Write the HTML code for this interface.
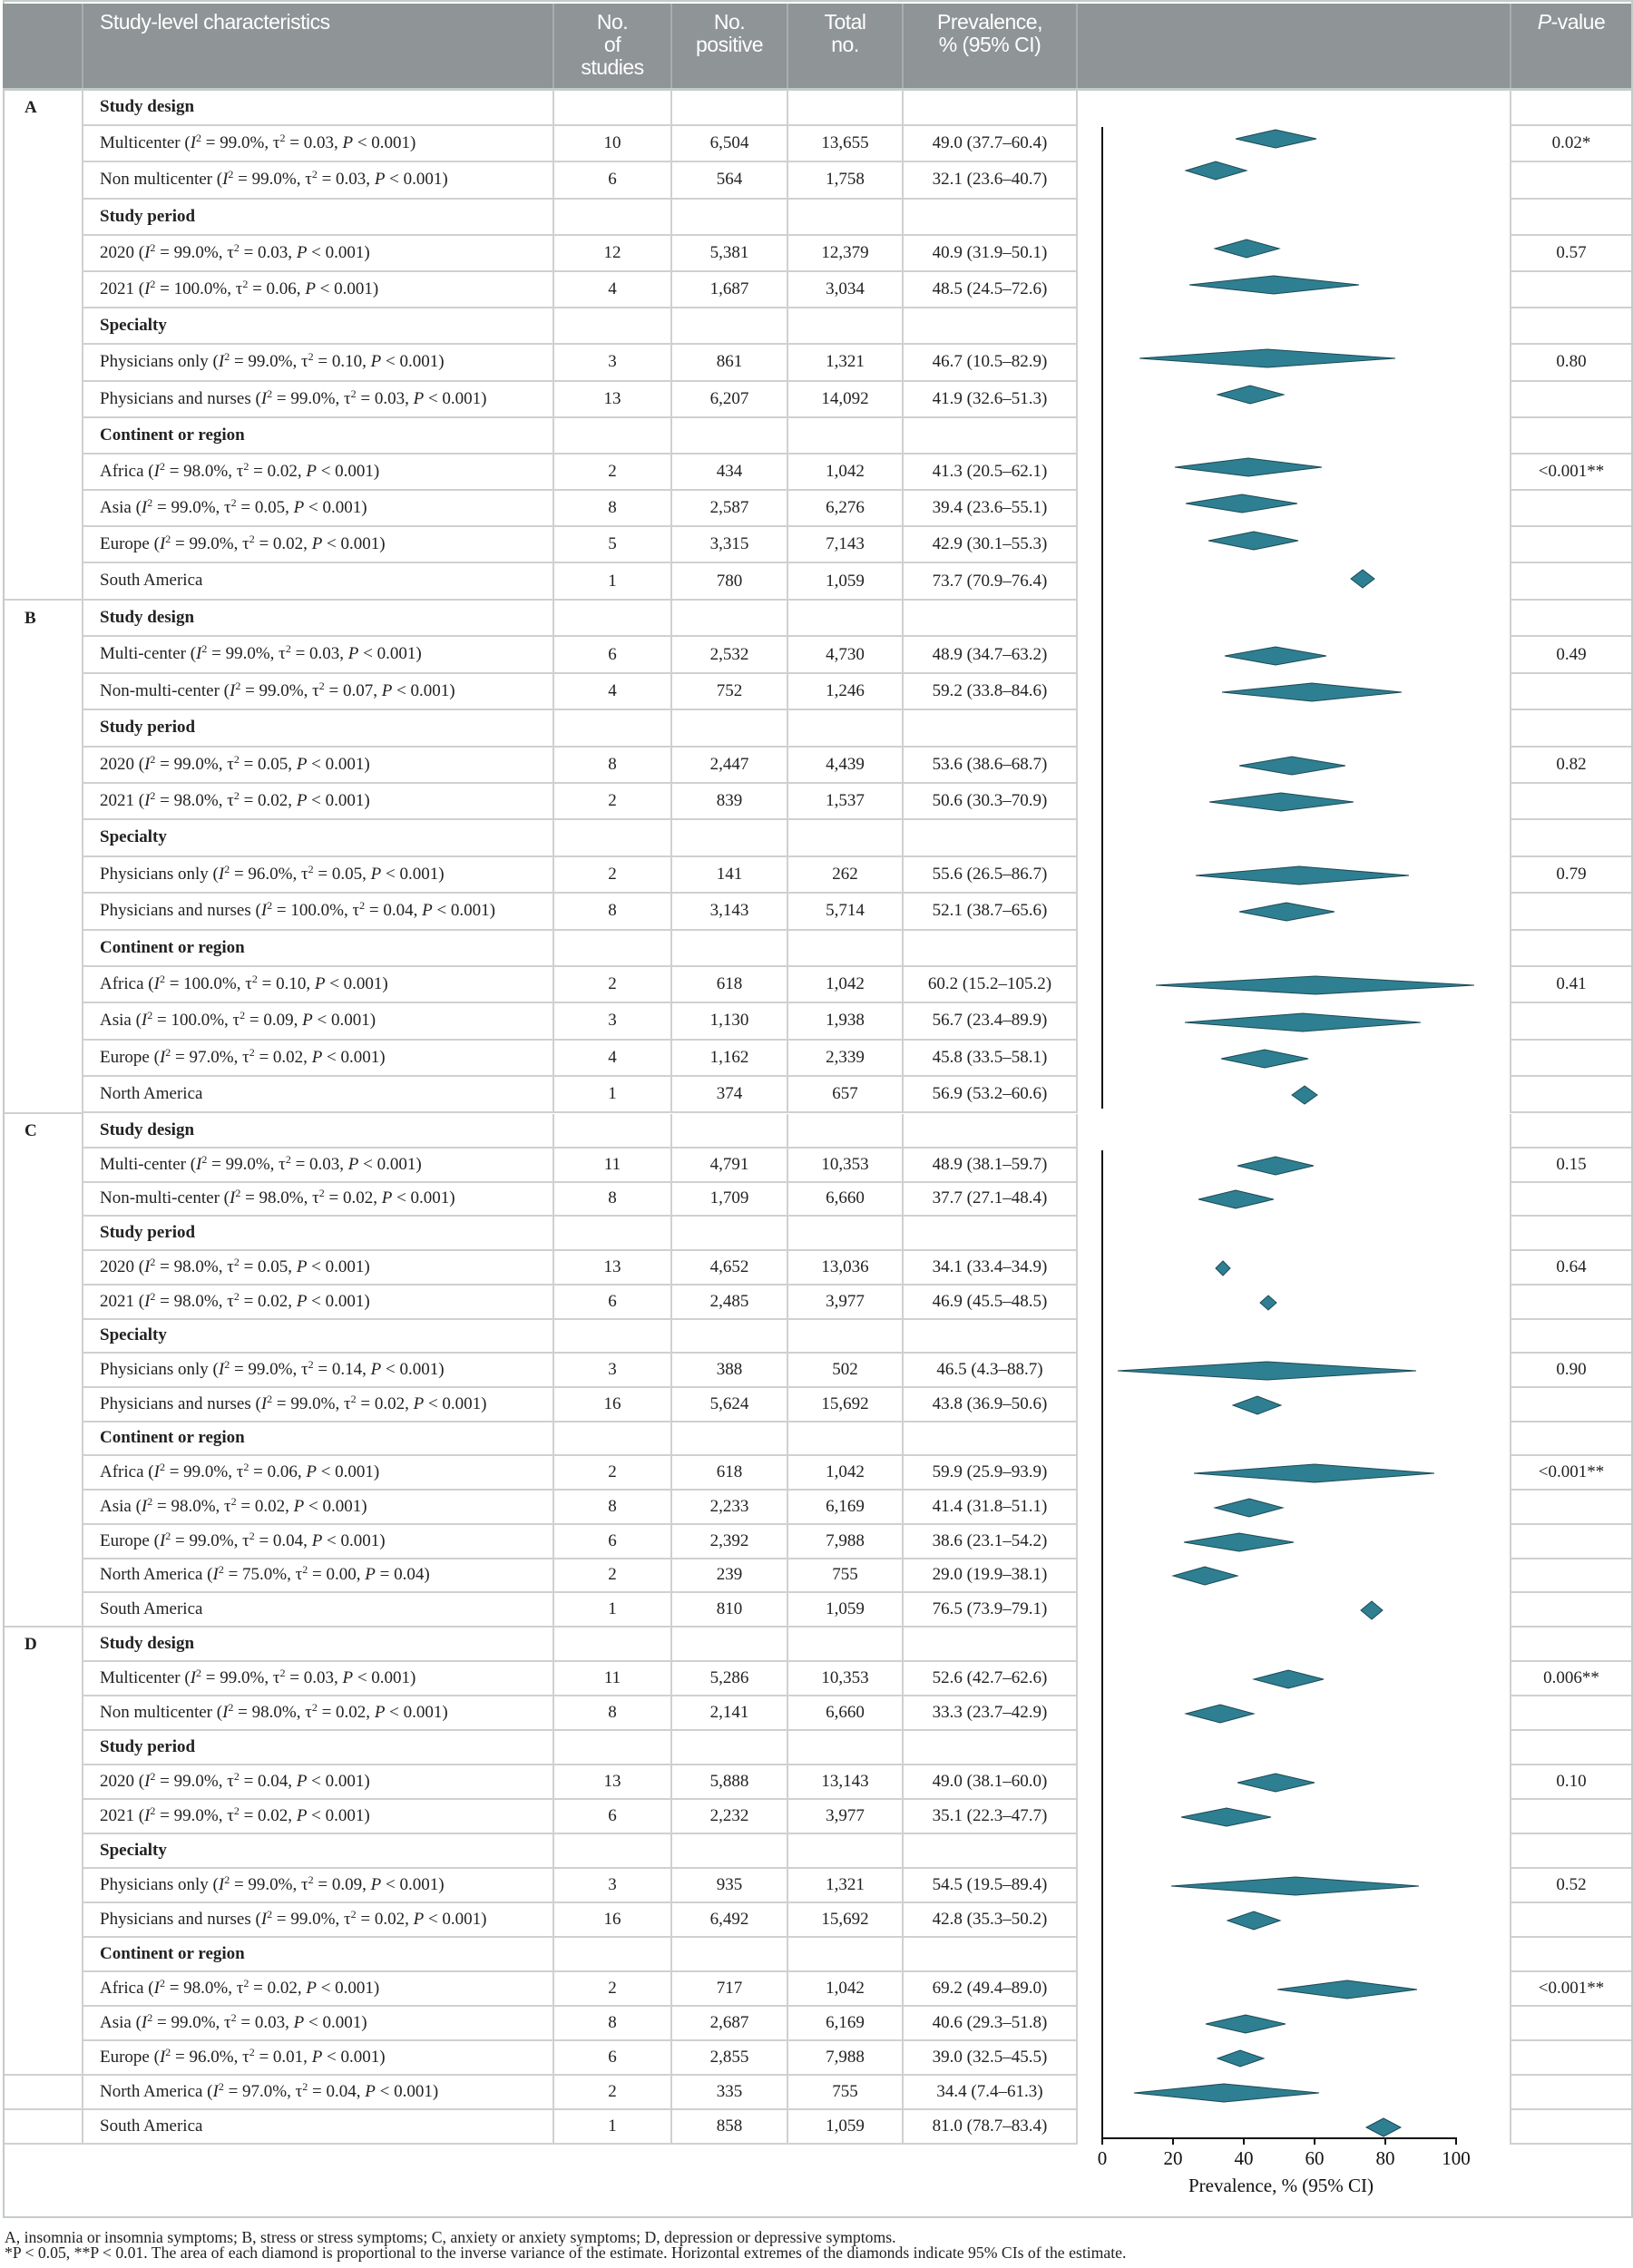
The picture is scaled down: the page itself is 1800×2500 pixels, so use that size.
<!DOCTYPE html>
<html><head><meta charset="utf-8">
<style>
html,body{margin:0;padding:0;background:#fff}
body{width:1800px;height:2500px;position:relative;overflow:hidden;font-family:"Liberation Serif",serif;color:#222}
.box{position:absolute;left:3px;top:0;width:1793px;height:2441px;border:2px solid #c3ccc9}
.hdr{position:absolute;left:3px;top:4px;width:1795px;height:93px;background:#8f9496;border-bottom:3px solid #c3ccc9;color:#fff;font-family:"Liberation Sans",sans-serif;font-size:23px;letter-spacing:-0.5px}
.hc{position:absolute;top:0;height:93px;border-left:2px solid #a9adaf;text-align:center;line-height:25px;padding-top:8px;box-sizing:border-box}
.sec{position:absolute;left:92px;width:1706px}
.r{display:grid;grid-template-columns:519px 130px 128px 127px 192px 478px 132px}
.c{border-bottom:2px solid #d0d0d0;border-right:2px solid #d0d0d0;display:flex;align-items:center;justify-content:center;font-size:19px;box-sizing:border-box;white-space:nowrap}
.c:last-child{border-right:none}
.t{display:block;padding-left:18px;line-height:36px}
.b{font-weight:bold}
.pl{border-right:2px solid #d0d0d0}
.A .r{height:40.2px}.B .r{height:40.4px}.C .r{height:37.73px}.D .r{height:38px}
.A .t,.B .t{line-height:38px}
.lc{position:absolute;left:5px;width:87px;border-right:2px solid #d0d0d0;border-bottom:2px solid #d0d0d0;box-sizing:border-box;font-weight:bold;font-size:19px;padding-left:22px}
.fn{position:absolute;left:5px;font-size:17.7px;line-height:17px;white-space:nowrap}
sup{font-size:12px;vertical-align:7px;line-height:0}
</style></head><body>
<div class="box"></div>
<div class="hdr">
<div class="hc" style="left:87px;width:520px;text-align:left;padding-left:18px;border-left:2px solid #a9adaf">Study-level characteristics</div>
<div class="hc" style="left:606px;width:130px">No.<br>of<br>studies</div>
<div class="hc" style="left:736px;width:128px">No.<br>positive</div>
<div class="hc" style="left:864px;width:127px">Total<br>no.</div>
<div class="hc" style="left:991px;width:192px">Prevalence,<br>% (95% CI)</div>
<div class="hc" style="left:1183px;width:478px"></div>
<div class="hc" style="left:1661px;width:134px"><i>P</i>-value</div>
</div>

<div class="lc" style="top:99px;height:563px;line-height:40px">A</div>
<div class="lc" style="top:662px;height:566px;line-height:40px">B</div>
<div class="lc" style="top:1228px;height:566px;line-height:38px">C</div>
<div class="lc" style="top:1794px;height:494px;line-height:38px">D</div>
<div class="lc" style="top:2288px;height:38px"></div>
<div class="lc" style="top:2326px;height:38px"></div>

<div class="sec A" style="top:99px">
<div class="r"><div class="c t b">Study design</div><div class="c"></div><div class="c"></div><div class="c"></div><div class="c"></div><div class="pl"></div><div class="c"></div></div>
<div class="r"><div class="c t">Multicenter (<i>I</i><sup>2</sup>&nbsp;= 99.0%, τ<sup>2</sup>&nbsp;= 0.03, <i>P</i> &lt; 0.001)</div><div class="c">10</div><div class="c">6,504</div><div class="c">13,655</div><div class="c">49.0 (37.7–60.4)</div><div class="pl"></div><div class="c">0.02*</div></div>
<div class="r"><div class="c t">Non multicenter (<i>I</i><sup>2</sup>&nbsp;= 99.0%, τ<sup>2</sup>&nbsp;= 0.03, <i>P</i> &lt; 0.001)</div><div class="c">6</div><div class="c">564</div><div class="c">1,758</div><div class="c">32.1 (23.6–40.7)</div><div class="pl"></div><div class="c"></div></div>
<div class="r"><div class="c t b">Study period</div><div class="c"></div><div class="c"></div><div class="c"></div><div class="c"></div><div class="pl"></div><div class="c"></div></div>
<div class="r"><div class="c t">2020 (<i>I</i><sup>2</sup>&nbsp;= 99.0%, τ<sup>2</sup>&nbsp;= 0.03, <i>P</i> &lt; 0.001)</div><div class="c">12</div><div class="c">5,381</div><div class="c">12,379</div><div class="c">40.9 (31.9–50.1)</div><div class="pl"></div><div class="c">0.57</div></div>
<div class="r"><div class="c t">2021 (<i>I</i><sup>2</sup>&nbsp;= 100.0%, τ<sup>2</sup>&nbsp;= 0.06, <i>P</i> &lt; 0.001)</div><div class="c">4</div><div class="c">1,687</div><div class="c">3,034</div><div class="c">48.5 (24.5–72.6)</div><div class="pl"></div><div class="c"></div></div>
<div class="r"><div class="c t b">Specialty</div><div class="c"></div><div class="c"></div><div class="c"></div><div class="c"></div><div class="pl"></div><div class="c"></div></div>
<div class="r"><div class="c t">Physicians only (<i>I</i><sup>2</sup>&nbsp;= 99.0%, τ<sup>2</sup>&nbsp;= 0.10, <i>P</i> &lt; 0.001)</div><div class="c">3</div><div class="c">861</div><div class="c">1,321</div><div class="c">46.7 (10.5–82.9)</div><div class="pl"></div><div class="c">0.80</div></div>
<div class="r"><div class="c t">Physicians and nurses (<i>I</i><sup>2</sup>&nbsp;= 99.0%, τ<sup>2</sup>&nbsp;= 0.03, <i>P</i> &lt; 0.001)</div><div class="c">13</div><div class="c">6,207</div><div class="c">14,092</div><div class="c">41.9 (32.6–51.3)</div><div class="pl"></div><div class="c"></div></div>
<div class="r"><div class="c t b">Continent or region</div><div class="c"></div><div class="c"></div><div class="c"></div><div class="c"></div><div class="pl"></div><div class="c"></div></div>
<div class="r"><div class="c t">Africa (<i>I</i><sup>2</sup>&nbsp;= 98.0%, τ<sup>2</sup>&nbsp;= 0.02, <i>P</i> &lt; 0.001)</div><div class="c">2</div><div class="c">434</div><div class="c">1,042</div><div class="c">41.3 (20.5–62.1)</div><div class="pl"></div><div class="c">&lt;0.001**</div></div>
<div class="r"><div class="c t">Asia (<i>I</i><sup>2</sup>&nbsp;= 99.0%, τ<sup>2</sup>&nbsp;= 0.05, <i>P</i> &lt; 0.001)</div><div class="c">8</div><div class="c">2,587</div><div class="c">6,276</div><div class="c">39.4 (23.6–55.1)</div><div class="pl"></div><div class="c"></div></div>
<div class="r"><div class="c t">Europe (<i>I</i><sup>2</sup>&nbsp;= 99.0%, τ<sup>2</sup>&nbsp;= 0.02, <i>P</i> &lt; 0.001)</div><div class="c">5</div><div class="c">3,315</div><div class="c">7,143</div><div class="c">42.9 (30.1–55.3)</div><div class="pl"></div><div class="c"></div></div>
<div class="r"><div class="c t">South America</div><div class="c">1</div><div class="c">780</div><div class="c">1,059</div><div class="c">73.7 (70.9–76.4)</div><div class="pl"></div><div class="c"></div></div>
</div>

<div class="sec B" style="top:662px">
<div class="r"><div class="c t b">Study design</div><div class="c"></div><div class="c"></div><div class="c"></div><div class="c"></div><div class="pl"></div><div class="c"></div></div>
<div class="r"><div class="c t">Multi-center (<i>I</i><sup>2</sup>&nbsp;= 99.0%, τ<sup>2</sup>&nbsp;= 0.03, <i>P</i> &lt; 0.001)</div><div class="c">6</div><div class="c">2,532</div><div class="c">4,730</div><div class="c">48.9 (34.7–63.2)</div><div class="pl"></div><div class="c">0.49</div></div>
<div class="r"><div class="c t">Non-multi-center (<i>I</i><sup>2</sup>&nbsp;= 99.0%, τ<sup>2</sup>&nbsp;= 0.07, <i>P</i> &lt; 0.001)</div><div class="c">4</div><div class="c">752</div><div class="c">1,246</div><div class="c">59.2 (33.8–84.6)</div><div class="pl"></div><div class="c"></div></div>
<div class="r"><div class="c t b">Study period</div><div class="c"></div><div class="c"></div><div class="c"></div><div class="c"></div><div class="pl"></div><div class="c"></div></div>
<div class="r"><div class="c t">2020 (<i>I</i><sup>2</sup>&nbsp;= 99.0%, τ<sup>2</sup>&nbsp;= 0.05, <i>P</i> &lt; 0.001)</div><div class="c">8</div><div class="c">2,447</div><div class="c">4,439</div><div class="c">53.6 (38.6–68.7)</div><div class="pl"></div><div class="c">0.82</div></div>
<div class="r"><div class="c t">2021 (<i>I</i><sup>2</sup>&nbsp;= 98.0%, τ<sup>2</sup>&nbsp;= 0.02, <i>P</i> &lt; 0.001)</div><div class="c">2</div><div class="c">839</div><div class="c">1,537</div><div class="c">50.6 (30.3–70.9)</div><div class="pl"></div><div class="c"></div></div>
<div class="r"><div class="c t b">Specialty</div><div class="c"></div><div class="c"></div><div class="c"></div><div class="c"></div><div class="pl"></div><div class="c"></div></div>
<div class="r"><div class="c t">Physicians only (<i>I</i><sup>2</sup>&nbsp;= 96.0%, τ<sup>2</sup>&nbsp;= 0.05, <i>P</i> &lt; 0.001)</div><div class="c">2</div><div class="c">141</div><div class="c">262</div><div class="c">55.6 (26.5–86.7)</div><div class="pl"></div><div class="c">0.79</div></div>
<div class="r"><div class="c t">Physicians and nurses (<i>I</i><sup>2</sup>&nbsp;= 100.0%, τ<sup>2</sup>&nbsp;= 0.04, <i>P</i> &lt; 0.001)</div><div class="c">8</div><div class="c">3,143</div><div class="c">5,714</div><div class="c">52.1 (38.7–65.6)</div><div class="pl"></div><div class="c"></div></div>
<div class="r"><div class="c t b">Continent or region</div><div class="c"></div><div class="c"></div><div class="c"></div><div class="c"></div><div class="pl"></div><div class="c"></div></div>
<div class="r"><div class="c t">Africa (<i>I</i><sup>2</sup>&nbsp;= 100.0%, τ<sup>2</sup>&nbsp;= 0.10, <i>P</i> &lt; 0.001)</div><div class="c">2</div><div class="c">618</div><div class="c">1,042</div><div class="c">60.2 (15.2–105.2)</div><div class="pl"></div><div class="c">0.41</div></div>
<div class="r"><div class="c t">Asia (<i>I</i><sup>2</sup>&nbsp;= 100.0%, τ<sup>2</sup>&nbsp;= 0.09, <i>P</i> &lt; 0.001)</div><div class="c">3</div><div class="c">1,130</div><div class="c">1,938</div><div class="c">56.7 (23.4–89.9)</div><div class="pl"></div><div class="c"></div></div>
<div class="r"><div class="c t">Europe (<i>I</i><sup>2</sup>&nbsp;= 97.0%, τ<sup>2</sup>&nbsp;= 0.02, <i>P</i> &lt; 0.001)</div><div class="c">4</div><div class="c">1,162</div><div class="c">2,339</div><div class="c">45.8 (33.5–58.1)</div><div class="pl"></div><div class="c"></div></div>
<div class="r"><div class="c t">North America</div><div class="c">1</div><div class="c">374</div><div class="c">657</div><div class="c">56.9 (53.2–60.6)</div><div class="pl"></div><div class="c"></div></div>
</div>

<div class="sec C" style="top:1228px">
<div class="r"><div class="c t b">Study design</div><div class="c"></div><div class="c"></div><div class="c"></div><div class="c"></div><div class="pl"></div><div class="c"></div></div>
<div class="r"><div class="c t">Multi-center (<i>I</i><sup>2</sup>&nbsp;= 99.0%, τ<sup>2</sup>&nbsp;= 0.03, <i>P</i> &lt; 0.001)</div><div class="c">11</div><div class="c">4,791</div><div class="c">10,353</div><div class="c">48.9 (38.1–59.7)</div><div class="pl"></div><div class="c">0.15</div></div>
<div class="r"><div class="c t">Non-multi-center (<i>I</i><sup>2</sup>&nbsp;= 98.0%, τ<sup>2</sup>&nbsp;= 0.02, <i>P</i> &lt; 0.001)</div><div class="c">8</div><div class="c">1,709</div><div class="c">6,660</div><div class="c">37.7 (27.1–48.4)</div><div class="pl"></div><div class="c"></div></div>
<div class="r"><div class="c t b">Study period</div><div class="c"></div><div class="c"></div><div class="c"></div><div class="c"></div><div class="pl"></div><div class="c"></div></div>
<div class="r"><div class="c t">2020 (<i>I</i><sup>2</sup>&nbsp;= 98.0%, τ<sup>2</sup>&nbsp;= 0.05, <i>P</i> &lt; 0.001)</div><div class="c">13</div><div class="c">4,652</div><div class="c">13,036</div><div class="c">34.1 (33.4–34.9)</div><div class="pl"></div><div class="c">0.64</div></div>
<div class="r"><div class="c t">2021 (<i>I</i><sup>2</sup>&nbsp;= 98.0%, τ<sup>2</sup>&nbsp;= 0.02, <i>P</i> &lt; 0.001)</div><div class="c">6</div><div class="c">2,485</div><div class="c">3,977</div><div class="c">46.9 (45.5–48.5)</div><div class="pl"></div><div class="c"></div></div>
<div class="r"><div class="c t b">Specialty</div><div class="c"></div><div class="c"></div><div class="c"></div><div class="c"></div><div class="pl"></div><div class="c"></div></div>
<div class="r"><div class="c t">Physicians only (<i>I</i><sup>2</sup>&nbsp;= 99.0%, τ<sup>2</sup>&nbsp;= 0.14, <i>P</i> &lt; 0.001)</div><div class="c">3</div><div class="c">388</div><div class="c">502</div><div class="c">46.5 (4.3–88.7)</div><div class="pl"></div><div class="c">0.90</div></div>
<div class="r"><div class="c t">Physicians and nurses (<i>I</i><sup>2</sup>&nbsp;= 99.0%, τ<sup>2</sup>&nbsp;= 0.02, <i>P</i> &lt; 0.001)</div><div class="c">16</div><div class="c">5,624</div><div class="c">15,692</div><div class="c">43.8 (36.9–50.6)</div><div class="pl"></div><div class="c"></div></div>
<div class="r"><div class="c t b">Continent or region</div><div class="c"></div><div class="c"></div><div class="c"></div><div class="c"></div><div class="pl"></div><div class="c"></div></div>
<div class="r"><div class="c t">Africa (<i>I</i><sup>2</sup>&nbsp;= 99.0%, τ<sup>2</sup>&nbsp;= 0.06, <i>P</i> &lt; 0.001)</div><div class="c">2</div><div class="c">618</div><div class="c">1,042</div><div class="c">59.9 (25.9–93.9)</div><div class="pl"></div><div class="c">&lt;0.001**</div></div>
<div class="r"><div class="c t">Asia (<i>I</i><sup>2</sup>&nbsp;= 98.0%, τ<sup>2</sup>&nbsp;= 0.02, <i>P</i> &lt; 0.001)</div><div class="c">8</div><div class="c">2,233</div><div class="c">6,169</div><div class="c">41.4 (31.8–51.1)</div><div class="pl"></div><div class="c"></div></div>
<div class="r"><div class="c t">Europe (<i>I</i><sup>2</sup>&nbsp;= 99.0%, τ<sup>2</sup>&nbsp;= 0.04, <i>P</i> &lt; 0.001)</div><div class="c">6</div><div class="c">2,392</div><div class="c">7,988</div><div class="c">38.6 (23.1–54.2)</div><div class="pl"></div><div class="c"></div></div>
<div class="r"><div class="c t">North America (<i>I</i><sup>2</sup>&nbsp;= 75.0%, τ<sup>2</sup>&nbsp;= 0.00, <i>P</i> = 0.04)</div><div class="c">2</div><div class="c">239</div><div class="c">755</div><div class="c">29.0 (19.9–38.1)</div><div class="pl"></div><div class="c"></div></div>
<div class="r"><div class="c t">South America</div><div class="c">1</div><div class="c">810</div><div class="c">1,059</div><div class="c">76.5 (73.9–79.1)</div><div class="pl"></div><div class="c"></div></div>
</div>

<div class="sec D" style="top:1794px">
<div class="r"><div class="c t b">Study design</div><div class="c"></div><div class="c"></div><div class="c"></div><div class="c"></div><div class="pl"></div><div class="c"></div></div>
<div class="r"><div class="c t">Multicenter (<i>I</i><sup>2</sup>&nbsp;= 99.0%, τ<sup>2</sup>&nbsp;= 0.03, <i>P</i> &lt; 0.001)</div><div class="c">11</div><div class="c">5,286</div><div class="c">10,353</div><div class="c">52.6 (42.7–62.6)</div><div class="pl"></div><div class="c">0.006**</div></div>
<div class="r"><div class="c t">Non multicenter (<i>I</i><sup>2</sup>&nbsp;= 98.0%, τ<sup>2</sup>&nbsp;= 0.02, <i>P</i> &lt; 0.001)</div><div class="c">8</div><div class="c">2,141</div><div class="c">6,660</div><div class="c">33.3 (23.7–42.9)</div><div class="pl"></div><div class="c"></div></div>
<div class="r"><div class="c t b">Study period</div><div class="c"></div><div class="c"></div><div class="c"></div><div class="c"></div><div class="pl"></div><div class="c"></div></div>
<div class="r"><div class="c t">2020 (<i>I</i><sup>2</sup>&nbsp;= 99.0%, τ<sup>2</sup>&nbsp;= 0.04, <i>P</i> &lt; 0.001)</div><div class="c">13</div><div class="c">5,888</div><div class="c">13,143</div><div class="c">49.0 (38.1–60.0)</div><div class="pl"></div><div class="c">0.10</div></div>
<div class="r"><div class="c t">2021 (<i>I</i><sup>2</sup>&nbsp;= 99.0%, τ<sup>2</sup>&nbsp;= 0.02, <i>P</i> &lt; 0.001)</div><div class="c">6</div><div class="c">2,232</div><div class="c">3,977</div><div class="c">35.1 (22.3–47.7)</div><div class="pl"></div><div class="c"></div></div>
<div class="r"><div class="c t b">Specialty</div><div class="c"></div><div class="c"></div><div class="c"></div><div class="c"></div><div class="pl"></div><div class="c"></div></div>
<div class="r"><div class="c t">Physicians only (<i>I</i><sup>2</sup>&nbsp;= 99.0%, τ<sup>2</sup>&nbsp;= 0.09, <i>P</i> &lt; 0.001)</div><div class="c">3</div><div class="c">935</div><div class="c">1,321</div><div class="c">54.5 (19.5–89.4)</div><div class="pl"></div><div class="c">0.52</div></div>
<div class="r"><div class="c t">Physicians and nurses (<i>I</i><sup>2</sup>&nbsp;= 99.0%, τ<sup>2</sup>&nbsp;= 0.02, <i>P</i> &lt; 0.001)</div><div class="c">16</div><div class="c">6,492</div><div class="c">15,692</div><div class="c">42.8 (35.3–50.2)</div><div class="pl"></div><div class="c"></div></div>
<div class="r"><div class="c t b">Continent or region</div><div class="c"></div><div class="c"></div><div class="c"></div><div class="c"></div><div class="pl"></div><div class="c"></div></div>
<div class="r"><div class="c t">Africa (<i>I</i><sup>2</sup>&nbsp;= 98.0%, τ<sup>2</sup>&nbsp;= 0.02, <i>P</i> &lt; 0.001)</div><div class="c">2</div><div class="c">717</div><div class="c">1,042</div><div class="c">69.2 (49.4–89.0)</div><div class="pl"></div><div class="c">&lt;0.001**</div></div>
<div class="r"><div class="c t">Asia (<i>I</i><sup>2</sup>&nbsp;= 99.0%, τ<sup>2</sup>&nbsp;= 0.03, <i>P</i> &lt; 0.001)</div><div class="c">8</div><div class="c">2,687</div><div class="c">6,169</div><div class="c">40.6 (29.3–51.8)</div><div class="pl"></div><div class="c"></div></div>
<div class="r"><div class="c t">Europe (<i>I</i><sup>2</sup>&nbsp;= 96.0%, τ<sup>2</sup>&nbsp;= 0.01, <i>P</i> &lt; 0.001)</div><div class="c">6</div><div class="c">2,855</div><div class="c">7,988</div><div class="c">39.0 (32.5–45.5)</div><div class="pl"></div><div class="c"></div></div>
<div class="r"><div class="c t">North America (<i>I</i><sup>2</sup>&nbsp;= 97.0%, τ<sup>2</sup>&nbsp;= 0.04, <i>P</i> &lt; 0.001)</div><div class="c">2</div><div class="c">335</div><div class="c">755</div><div class="c">34.4 (7.4–61.3)</div><div class="pl"></div><div class="c"></div></div>
<div class="r"><div class="c t">South America</div><div class="c">1</div><div class="c">858</div><div class="c">1,059</div><div class="c">81.0 (78.7–83.4)</div><div class="pl"></div><div class="c"></div></div>
</div>

<svg style="position:absolute;left:0;top:0" width="1800" height="2500" viewBox="0 0 1800 2500">
<rect x="1190" y="2366" width="476" height="76" fill="#fff"/>
<g stroke="#111" stroke-width="2" fill="none">
<line x1="1215" y1="140" x2="1215" y2="1222"/>
<line x1="1215" y1="1268" x2="1215" y2="2358"/>
<line x1="1214" y1="2357" x2="1606" y2="2357"/>
<line x1="1215" y1="2357" x2="1215" y2="2364"/>
<line x1="1293" y1="2357" x2="1293" y2="2364"/>
<line x1="1371" y1="2357" x2="1371" y2="2364"/>
<line x1="1449" y1="2357" x2="1449" y2="2364"/>
<line x1="1527" y1="2357" x2="1527" y2="2364"/>
<line x1="1605" y1="2357" x2="1605" y2="2364"/>
</g>
<g font-family="Liberation Serif, serif" font-size="21" fill="#111" text-anchor="middle">
<text x="1215" y="2386">0</text><text x="1293" y="2386">20</text><text x="1371" y="2386">40</text><text x="1449" y="2386">60</text><text x="1527" y="2386">80</text><text x="1605" y="2386">100</text>
<text x="1412" y="2416">Prevalence, % (95% CI)</text>
</g>
<g fill="#2e7f92" stroke="#1d4a55" stroke-width="1">
<polygon points="1362,153 1406,143 1451,153 1406,163"/>
<polygon points="1307,188 1340,178 1374,188 1340,198"/>
<polygon points="1339,274 1374,264 1410,274 1374,284"/>
<polygon points="1311,314 1404,304 1498,314 1404,324"/>
<polygon points="1256,395 1397,385 1538,395 1397,405"/>
<polygon points="1342,435 1378,425 1415,435 1378,445"/>
<polygon points="1295,515 1376,505 1457,515 1376,525"/>
<polygon points="1307,555 1369,545 1430,555 1369,565"/>
<polygon points="1332,596 1382,586 1431,596 1382,606"/>
<polygon points="1489,638 1502,628 1515,638 1502,648"/>

<polygon points="1350,723 1406,713 1462,723 1406,733"/>
<polygon points="1347,763 1446,753 1545,763 1446,773"/>
<polygon points="1366,844 1424,834 1483,844 1424,854"/>
<polygon points="1333,884 1412,874 1492,884 1412,894"/>
<polygon points="1318,965 1432,955 1553,965 1432,975"/>
<polygon points="1366,1005 1418,995 1471,1005 1418,1015"/>
<polygon points="1274,1086 1450,1076 1625,1086 1450,1096"/>
<polygon points="1306,1127 1436,1117 1566,1127 1436,1137"/>
<polygon points="1346,1167 1394,1157 1442,1167 1394,1177"/>
<polygon points="1424,1207 1438,1197 1452,1207 1438,1217"/>

<polygon points="1364,1285 1406,1275 1448,1285 1406,1295"/>
<polygon points="1321,1322 1362,1312 1404,1322 1362,1332"/>
<polygon points="1340,1398 1348,1390 1356,1398 1348,1406"/>
<polygon points="1389,1436 1398,1428 1407,1436 1398,1444"/>
<polygon points="1232,1511 1396,1501 1561,1511 1396,1521"/>
<polygon points="1359,1549 1386,1539 1412,1549 1386,1559"/>
<polygon points="1316,1624 1449,1614 1581,1624 1449,1634"/>
<polygon points="1339,1662 1377,1652 1414,1662 1377,1672"/>
<polygon points="1305,1700 1366,1690 1426,1700 1366,1710"/>
<polygon points="1293,1737 1328,1727 1364,1737 1328,1747"/>
<polygon points="1500,1775 1512,1765 1524,1775 1512,1785"/>

<polygon points="1382,1851 1420,1841 1459,1851 1420,1861"/>
<polygon points="1307,1889 1345,1879 1382,1889 1345,1899"/>
<polygon points="1364,1965 1406,1955 1449,1965 1406,1975"/>
<polygon points="1302,2003 1352,1993 1401,2003 1352,2013"/>
<polygon points="1291,2079 1428,2069 1564,2079 1428,2089"/>
<polygon points="1353,2117 1382,2107 1411,2117 1382,2127"/>
<polygon points="1408,2193 1485,2183 1562,2193 1485,2203"/>
<polygon points="1329,2231 1373,2221 1417,2231 1373,2241"/>
<polygon points="1342,2269 1367,2260 1393,2269 1367,2278"/>
<polygon points="1250,2307 1349,2297 1454,2307 1349,2317"/>
<polygon points="1506,2345 1525,2335 1544,2345 1525,2355"/>
</g>
</svg>

<div class="fn" style="top:2458px">A, insomnia or insomnia symptoms; B, stress or stress symptoms; C, anxiety or anxiety symptoms; D, depression or depressive symptoms.</div>
<div class="fn" style="top:2475px">*P &lt; 0.05, **P &lt; 0.01. The area of each diamond is proportional to the inverse variance of the estimate. Horizontal extremes of the diamonds indicate 95% CIs of the estimate.</div>
</body></html>
